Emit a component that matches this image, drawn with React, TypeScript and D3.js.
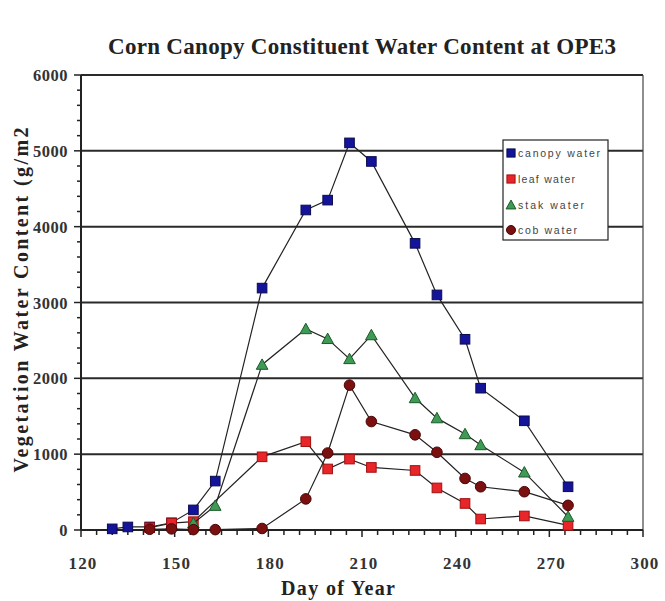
import React from "react";
import * as d3 from "d3";

const canopyDays = [130, 135, 142, 149, 156, 163, 178, 192, 199, 206, 213, 227, 234, 243, 248, 262, 276];
const canopyWater = [15, 40, 40, 95, 265, 645, 3190, 4220, 4350, 5105, 4860, 3780, 3100, 2515, 1870, 1440, 570];
const leafDays = [142, 149, 156, 178, 192, 199, 206, 213, 227, 234, 243, 248, 262, 276];
const leafWater = [30, 90, 110, 965, 1165, 805, 935, 825, 785, 555, 350, 145, 185, 60];
const stalkDays = [156, 163, 178, 192, 199, 206, 213, 227, 234, 243, 248, 262, 276];
const stalkWater = [90, 320, 2180, 2650, 2520, 2255, 2570, 1740, 1475, 1265, 1120, 760, 175];
const cobDays = [142, 149, 156, 163, 178, 192, 199, 206, 213, 227, 234, 243, 248, 262, 276];
const cobWater = [10, 15, 5, 5, 20, 410, 1015, 1910, 1430, 1255, 1025, 680, 570, 505, 325];

const xTicks = [120, 150, 180, 210, 240, 270, 300];
const yTicks = [0, 1000, 2000, 3000, 4000, 5000, 6000];
const seriesNames = ["canopy water", "leaf water", "stak water", "cob water"];

const W = 665, H = 601;
const L = 81, R = 643, T = 75, B = 530;

type Marker = "square" | "triangle" | "circle";
interface Series { name: string; days: number[]; vals: number[]; fill: string; stroke: string; marker: Marker; }

const series: Series[] = [
  { name: seriesNames[0], days: canopyDays, vals: canopyWater, fill: "#14149a", stroke: "#0a0a50", marker: "square" },
  { name: seriesNames[1], days: leafDays, vals: leafWater, fill: "#e8262a", stroke: "#a01010", marker: "square" },
  { name: seriesNames[2], days: stalkDays, vals: stalkWater, fill: "#3f9a55", stroke: "#1c5a2a", marker: "triangle" },
  { name: seriesNames[3], days: cobDays, vals: cobWater, fill: "#7a1010", stroke: "#4a0505", marker: "circle" },
];

function MarkerShape({ m, x, y, fill, stroke, s = 1 }: { m: Marker; x: number; y: number; fill: string; stroke: string; s?: number }) {
  if (m === "square") {
    const h = 4.8 * s;
    return <rect x={x - h} y={y - h} width={2 * h} height={2 * h} fill={fill} stroke={stroke} strokeWidth={1} />;
  }
  if (m === "triangle") {
    const h = 5.8 * s;
    return <path d={`M${x},${y - h}L${x + h},${y + h * 0.8}L${x - h},${y + h * 0.8}Z`} fill={fill} stroke={stroke} strokeWidth={1} />;
  }
  return <circle cx={x} cy={y} r={5.3 * s} fill={fill} stroke={stroke} strokeWidth={1} />;
}

export default function App() {
  const x = d3.scaleLinear().domain([120, 300]).range([L, R]);
  const y = d3.scaleLinear().domain([0, 6000]).range([B, T]);
  const line = d3.line<[number, number]>().x((d) => x(d[0])).y((d) => y(d[1]));
  const xMinor = d3.range(120, 301, 5);
  const yMinor = d3.range(0, 6001, 200);
  const serif = "'Liberation Serif', 'Times New Roman', serif";
  const sans = "'Liberation Sans', Arial, sans-serif";

  const legendX = 503, legendY = 140, legendW = 105, legendH = 100;
  const legendRows = [153, 179, 205, 230];
  const legendLens = [82, 57, 66, 59];

  return (
    <svg width={W} height={H} style={{ position: "absolute", left: 0, top: 0, background: "#fff" }}>
      <rect x={0} y={0} width={W} height={H} fill="#fff" />
      <text x={362} y={54} textAnchor="middle" fontFamily={serif} fontWeight="bold" fontSize={23} fill="#222"
        textLength={508} lengthAdjust="spacing">Corn Canopy Constituent Water Content at OPE3</text>

      {/* gridlines */}
      {yTicks.filter((t) => t > 0).map((t) => (
        <line key={"g" + t} x1={L} x2={R} y1={y(t)} y2={y(t)} stroke="#2a2a2a" strokeWidth={2} />
      ))}
      {/* plot border */}
      <line x1={R} x2={R} y1={T} y2={B} stroke="#444" strokeWidth={1.2} />
      {/* axes */}
      <line x1={L} x2={L} y1={T} y2={B} stroke="#222" strokeWidth={2} />
      <line x1={L} x2={R} y1={B} y2={B} stroke="#222" strokeWidth={2} />
      {yMinor.map((t) => (
        <line key={"ym" + t} x1={L - (t % 1000 === 0 ? 7 : 4)} x2={L} y1={y(t)} y2={y(t)} stroke="#222" strokeWidth={1.5} />
      ))}
      {xMinor.map((t) => (
        <line key={"xm" + t} x1={x(t)} x2={x(t)} y1={B} y2={B + (t % 30 === 0 ? 7 : 5)} stroke="#222" strokeWidth={1.5} />
      ))}
      {yTicks.map((t) => (
        <text key={"yl" + t} x={68} y={y(t) + 6} textAnchor="end" fontFamily={serif} fontWeight="bold" fontSize={16.5}
          fill="#333" letterSpacing={0.5}>{t}</text>
      ))}
      {xTicks.map((t) => (
        <text key={"xl" + t} x={x(t) + 2} y={569} textAnchor="middle" fontFamily={serif} fontWeight="bold" fontSize={17}
          fill="#333" letterSpacing={1.2}>{t}</text>
      ))}
      <text x={338} y={595} textAnchor="middle" fontFamily={serif} fontWeight="bold" fontSize={20} fill="#222"
        textLength={114} lengthAdjust="spacing">Day of Year</text>
      <text transform={`translate(28,300) rotate(-90)`} textAnchor="middle" fontFamily={serif} fontWeight="bold"
        fontSize={20} fill="#222" textLength={345} lengthAdjust="spacing">Vegetation Water Content (g/m2</text>

      {/* series */}
      {series.map((s) => {
        const pts = s.days.map((d, i) => [d, s.vals[i]] as [number, number]);
        return (
          <g key={s.name}>
            <path d={line(pts) || ""} fill="none" stroke="#222" strokeWidth={1.2} />
            {pts.map((p, i) => (
              <MarkerShape key={i} m={s.marker} x={x(p[0])} y={y(p[1])} fill={s.fill} stroke={s.stroke} />
            ))}
          </g>
        );
      })}

      {/* legend */}
      <rect x={legendX} y={legendY} width={legendW} height={legendH} fill="#fff" stroke="#222" strokeWidth={1.2} />
      {series.map((s, i) => (
        <g key={"lg" + i}>
          <MarkerShape m={s.marker} x={511} y={legendRows[i]} fill={s.fill} stroke={s.stroke} s={0.85} />
          <text x={518} y={legendRows[i] + 4} fontFamily={sans} fontSize={10.5} fill="#444"
            textLength={legendLens[i]} lengthAdjust="spacing">{s.name}</text>
        </g>
      ))}
    </svg>
  );
}
